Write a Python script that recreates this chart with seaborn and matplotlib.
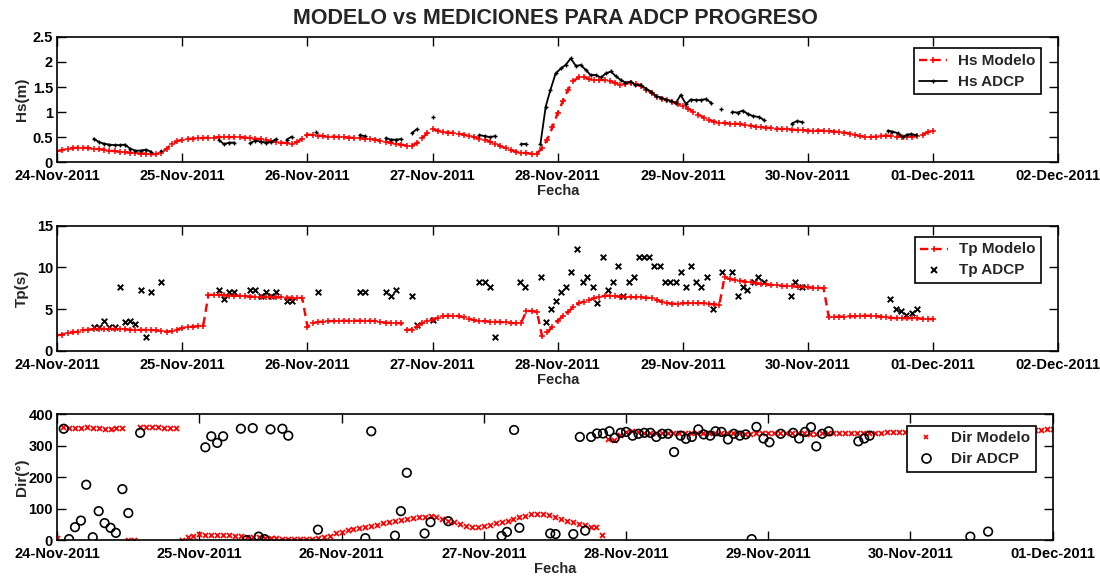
import numpy as np
import pandas as pd
import matplotlib
matplotlib.use('Agg')
import matplotlib.pyplot as plt
import matplotlib.dates as mdates
from matplotlib.lines import Line2D
import seaborn as sns

sns.set_style('white')
plt.rcParams['font.family'] = ['Liberation Sans', 'DejaVu Sans']
plt.rcParams['font.weight'] = 'bold'
plt.rcParams['axes.labelweight'] = 'bold'

# model output, hourly from 24-Nov-2011 00:00 to 01-Dec-2011 00:00
hs_model = [0.22, 0.24, 0.26, 0.28, 0.29, 0.29, 0.28, 0.27, 0.26, 0.25, 0.23, 0.22,
            0.21, 0.20, 0.19, 0.18, 0.17, 0.17, 0.16, 0.16, 0.19, 0.27, 0.36, 0.42,
            0.44, 0.46, 0.47, 0.48, 0.48, 0.49, 0.49, 0.50, 0.50, 0.50, 0.50, 0.50,
            0.49, 0.48, 0.47, 0.46, 0.44, 0.42, 0.40, 0.39, 0.38, 0.37, 0.40, 0.47,
            0.55, 0.54, 0.53, 0.52, 0.51, 0.51, 0.50, 0.50, 0.49, 0.48, 0.48, 0.47,
            0.46, 0.45, 0.43, 0.41, 0.39, 0.37, 0.35, 0.33, 0.33, 0.38, 0.48, 0.58,
            0.66, 0.63, 0.60, 0.59, 0.58, 0.57, 0.55, 0.53, 0.50, 0.47, 0.45, 0.41,
            0.37, 0.32, 0.28, 0.24, 0.21, 0.19, 0.18, 0.17, 0.17, 0.28, 0.45, 0.70,
            0.98, 1.22, 1.45, 1.62, 1.69, 1.70, 1.66, 1.64, 1.64, 1.64, 1.62, 1.58,
            1.55, 1.57, 1.58, 1.57, 1.52, 1.45, 1.38, 1.31, 1.27, 1.24, 1.20, 1.16,
            1.12, 1.07, 1.01, 0.95, 0.89, 0.84, 0.81, 0.79, 0.78, 0.77, 0.77, 0.76,
            0.74, 0.73, 0.71, 0.70, 0.69, 0.68, 0.67, 0.66, 0.66, 0.65, 0.64, 0.64,
            0.63, 0.63, 0.63, 0.63, 0.62, 0.61, 0.60, 0.59, 0.57, 0.55, 0.52, 0.51,
            0.50, 0.51, 0.52, 0.53, 0.52, 0.51, 0.51, 0.50, 0.51, 0.53, 0.55, 0.60,
            0.63]

tp_model = [1.85, 1.95, 2.1, 2.2, 2.3, 2.45, 2.55, 2.6, 2.62, 2.65, 2.65, 2.6,
            2.6, 2.57, 2.55, 2.5, 2.5, 2.5, 2.5, 2.45, 2.35, 2.3, 2.35, 2.55,
            2.7, 2.85, 2.9, 2.95, 3.0, 6.7, 6.7, 6.68, 6.67, 6.62, 6.6, 6.58,
            6.55, 6.5, 6.48, 6.45, 6.42, 6.4, 6.4, 6.4, 6.38, 6.37, 6.35, 6.33,
            2.9, 3.3, 3.45, 3.5, 3.55, 3.58, 3.6, 3.6, 3.6, 3.6, 3.6, 3.6,
            3.6, 3.55, 3.45, 3.38, 3.35, 3.32, 3.3, 2.5, 2.55, 2.9, 3.3, 3.55,
            3.75, 3.95, 4.15, 4.2, 4.22, 4.15, 4.0, 3.85, 3.65, 3.55, 3.55, 3.5,
            3.48, 3.45, 3.4, 3.35, 3.3, 3.35, 4.8, 4.75, 4.7, 1.75, 2.2, 2.9,
            3.6, 4.15, 4.7, 5.2, 5.7, 5.9, 6.05, 6.3, 6.45, 6.6, 6.6, 6.55,
            6.5, 6.5, 6.45, 6.4, 6.4, 6.35, 6.32, 6.1, 5.85, 5.75, 5.65, 5.65,
            5.7, 5.72, 5.72, 5.72, 5.7, 5.62, 5.55, 5.52, 8.8, 8.6, 8.5, 8.4,
            8.3, 8.2, 8.1, 8.0, 7.95, 7.9, 7.85, 7.8, 7.75, 7.72, 7.7, 7.65,
            7.6, 7.58, 7.55, 7.5, 4.0, 4.05, 4.1, 4.1, 4.12, 4.15, 4.18, 4.2,
            4.2, 4.18, 4.1, 4.0, 3.95, 3.9, 3.9, 3.9, 3.88, 3.88, 3.85, 3.82,
            3.78]

dir_model = [8, 360, 356, 355, 355, 358, 357, 355, 354, 354, 355, 356,
             1, 1, 360, 358, 358, 358, 357, 357, 356, 1, 9, 14,
             18, 17, 15, 15, 15, 15, 14, 12, 11, 10, 9, 7,
             6, 5, 4, 3, 3, 3, 3, 3, 5, 9, 14, 21,
             27, 31, 35, 39, 43, 46, 49, 54, 57, 62, 65, 68,
             71, 73, 74, 75, 73, 68, 62, 57, 50, 46, 43, 43,
             44, 49, 54, 57, 62, 68, 73, 78, 82, 84, 84, 79,
             74, 68, 62, 57, 51, 48, 43, 41, 17, 322, 317, 335,
             344, 346, 343, 342, 342, 341, 341, 340, 339, 339, 340, 340,
             339, 339, 339, 340, 340, 339, 339, 339, 338, 338, 339, 339,
             339, 339, 339, 340, 340, 339, 339, 338, 338, 339, 339, 340,
             340, 340, 340, 341, 341, 341, 342, 342, 343, 343, 344, 344,
             344, 344, 345, 345, 345, 346, 346, 346, 347, 347, 347, 348,
             348, 348, 349, 349, 349, 350, 350, 350, 351, 351, 351, 352,
             352]

# ADCP measurements (hours after 24-Nov-2011 00:00)
hs_adcp_h = [7, 8, 9, 10, 11, 12, 13, 14, 15, 16, 17, 18, 20,
             31, 32, 33, 34, 37, 38, 39, 40, 41, 42, 44, 45, 49.7,
             58, 59, 63, 64, 65, 66, 68, 69, 72, 81, 82, 83, 84, 89, 90,
             92.7, 93.7, 94.6, 95.6, 96.6, 97.5, 98.5, 99.5, 100.4, 101.4, 102.3, 103.3,
             104.3, 105.2, 106.2, 107.1, 108.1, 109.0, 110.0, 110.9, 111.9, 112.9,
             113.9, 114.8, 115.8, 116.7, 117.7, 118.7, 119.6, 120.6, 121.5, 122.5,
             123.5, 124.4, 125.4, 127.4,
             129.5, 130.5, 131.5, 132.5, 133.5, 134.6, 135.6, 140.9, 141.9, 142.9,
             159.3, 160.2, 161.2, 162.2, 163.0, 163.8, 164.8]
hs_adcp = [0.47, 0.40, 0.37, 0.35, 0.34, 0.34, 0.35, 0.27, 0.23, 0.23, 0.25, 0.21, 0.22,
           0.44, 0.36, 0.39, 0.39, 0.38, 0.43, 0.41, 0.39, 0.40, 0.46, 0.45, 0.51, 0.61,
           0.54, 0.52, 0.48, 0.45, 0.45, 0.46, 0.58, 0.66, 0.90, 0.54, 0.52, 0.50, 0.52, 0.37, 0.37,
           0.37, 1.11, 1.44, 1.77, 1.87, 1.94, 2.07, 1.92, 1.94, 1.84, 1.74, 1.74,
           1.69, 1.77, 1.81, 1.72, 1.64, 1.59, 1.61, 1.54, 1.54, 1.47,
           1.41, 1.32, 1.29, 1.25, 1.22, 1.19, 1.34, 1.16, 1.25, 1.24,
           1.24, 1.26, 1.19, 1.07,
           1.00, 0.99, 1.03, 0.96, 0.92, 0.90, 0.84, 0.77, 0.82, 0.80,
           0.63, 0.61, 0.58, 0.50, 0.55, 0.56, 0.54]

tp_adcp_h = [7, 8, 9, 10, 11, 12, 13, 14, 15, 16, 17, 18, 20,
             31, 32, 33, 34, 37, 38, 39, 40, 41, 42, 44, 45,
             50, 58, 59, 63, 64, 65, 68, 69, 72, 81, 82, 83, 84,
             88.8, 89.7, 92.8, 93.7, 94.7, 95.6, 96.6, 97.5, 98.6, 99.7, 100.8, 101.7,
             102.7, 103.6, 104.7, 105.7, 106.7, 107.6, 108.6, 109.7, 110.7, 111.6,
             112.6, 113.6, 114.5, 115.7, 116.6, 117.6, 118.7, 119.6, 120.6, 121.5,
             122.5, 123.5, 124.6, 125.7, 127.6, 129.5, 130.5, 131.5, 132.4, 133.6,
             134.5, 135.5, 140.7, 141.6, 142.9,
             159.8, 160.8, 161.8, 162.8, 163.9, 164.9]
tp_adcp = [2.8, 2.8, 3.6, 2.8, 2.8, 7.7, 3.4, 3.6, 3.2, 7.3, 1.6, 7.0, 8.2,
           7.3, 6.2, 7.0, 7.0, 7.3, 7.3, 6.6, 7.0, 6.6, 7.0, 6.0, 6.0,
           7.0, 7.0, 7.0, 7.0, 6.6, 7.3, 6.6, 3.05, 3.7, 8.2, 8.2, 7.7, 1.6,
           8.2, 7.7, 8.9, 3.4, 5.0, 6.0, 7.0, 7.7, 9.4, 12.2, 8.2, 8.9,
           7.7, 5.7, 11.2, 7.3, 8.2, 10.2, 6.6, 8.2, 8.9, 11.2,
           11.2, 11.2, 10.2, 10.2, 8.2, 8.2, 8.2, 9.4, 7.7, 10.2,
           8.2, 7.7, 8.9, 5.0, 9.4, 9.4, 6.6, 7.7, 7.3, 8.2,
           8.9, 8.2, 6.6, 8.2, 7.7,
           6.2, 5.0, 4.8, 4.3, 4.5, 5.0]

dir_adcp_h = [1.1, 2, 3, 4, 4.9, 6, 7, 8, 9, 9.9, 11, 12, 14,
              25, 26, 27, 28, 31, 32, 33, 34, 35, 36, 38, 39, 44,
              52, 53, 57, 58, 59, 62, 63, 66,
              75, 75.9, 77.1, 78,
              83.2, 84.1, 87.1, 88.2, 89.1, 90.1, 91.1, 92.1, 93.2, 94.1, 95.1,
              96, 97.1, 98.1, 99.1, 100.1, 101.1, 102.1, 103.1, 104.1, 105.2, 106.1,
              107.1, 108.2, 109.1, 110.2, 111.1, 112.1, 113.2, 114.2, 115.2, 116.2,
              117.2, 118, 119.2, 120.2, 122.1, 124.2, 125.2, 126.2, 127.2, 128.1, 129.1, 130.2,
              135.2, 136.2, 137.1, 154.1, 157.1]
dir_adcp = [354, 3, 41, 62, 176, 9, 92, 54, 39, 23, 162, 86, 341,
            295, 330, 309, 330, 354, 0, 356, 11, 3, 352, 354, 332, 33,
            6, 346, 14, 92, 214, 21, 57, 60,
            13, 26, 350, 39,
            21, 19, 19, 328, 30, 328, 339, 339, 346, 325, 341,
            344, 332, 338, 341, 341, 328, 338, 338, 280, 332, 322,
            328, 352, 336, 332, 346, 344, 320, 338, 332, 336,
            3, 360, 323, 311, 338, 341, 323, 344, 359, 298, 338, 346,
            314, 323, 332, 11, 27]

t0 = pd.Timestamp('2011-11-24')


def to_time(hours):
    return t0 + pd.to_timedelta(np.asarray(hours, dtype=float), unit='h')


model_t = to_time(np.arange(len(hs_model)))
days_top = pd.date_range('2011-11-24', '2011-12-02', freq='D')
days_bot = pd.date_range('2011-11-24', '2011-12-01', freq='D')

fig = plt.figure(figsize=(11, 5.77), dpi=100)
left, width = 0.052, 0.910
ax1 = fig.add_axes([left, 0.719, width, 0.217])
ax2 = fig.add_axes([left, 0.392, width, 0.217])
ax3 = fig.add_axes([left, 0.064, 0.905, 0.218])

fig.text(0.505, 0.968, 'MODELO vs MEDICIONES PARA ADCP PROGRESO',
         ha='center', va='center', fontsize=15.5, fontweight='bold')

DASH = (0, (3.5, 2.2))
model_kw = dict(color='red', linewidth=1.7, marker='+', markersize=4,
                markeredgewidth=1.1, markeredgecolor='red')
adcp_kw = dict(color='black', linewidth=1.3, marker='+', markersize=3.5,
               markeredgewidth=1.0, markeredgecolor='black')


def model_line(ax, y):
    sns.lineplot(x=model_t, y=y, ax=ax, **model_kw)
    ax.lines[-1].set_linestyle(DASH)


# --- Hs ---
model_line(ax1, hs_model)
hh = np.asarray(hs_adcp_h, dtype=float)
seg = np.concatenate([[0], np.cumsum(np.diff(hh) > 1.5)])
sns.lineplot(x=to_time(hh), y=hs_adcp, units=seg, estimator=None, ax=ax1,
             **adcp_kw)
ax1.set_ylim(0, 2.5)
ax1.set_yticks([0, 0.5, 1, 1.5, 2, 2.5])
ax1.set_yticklabels(['0', '0.5', '1', '1.5', '2', '2.5'])
ax1.set_ylabel('Hs(m)')
ax1.legend([Line2D([], [], linestyle=DASH, **model_kw),
            Line2D([], [], **adcp_kw)],
           ['Hs Modelo', 'Hs ADCP'], loc='upper right')

# --- Tp ---
model_line(ax2, tp_model)
sns.scatterplot(x=to_time(tp_adcp_h), y=tp_adcp, ax=ax2, marker='x',
                color='black', s=16, linewidth=1.4)
ax2.set_ylim(0, 15)
ax2.set_yticks([0, 5, 10, 15])
ax2.set_ylabel('Tp(s)')
ax2.legend([Line2D([], [], linestyle=DASH, **model_kw),
            Line2D([], [], color='black', linestyle='none', marker='x',
                   markersize=4, markeredgewidth=1.4)],
           ['Tp Modelo', 'Tp ADCP'], loc='upper right')

# --- Dir ---
sns.scatterplot(x=model_t, y=dir_model, ax=ax3, marker='x', color='red',
                s=13, linewidth=1.3)
sns.scatterplot(x=to_time(dir_adcp_h), y=dir_adcp, ax=ax3, marker='o',
                facecolor='none', edgecolor='black', s=38, linewidth=1.2)
ax3.set_ylim(0, 400)
ax3.set_yticks([0, 100, 200, 300, 400])
ax3.set_ylabel('Dir(°)')
ax3.legend([Line2D([], [], color='red', linestyle='none', marker='x',
                   markersize=3.5, markeredgewidth=1.2),
            Line2D([], [], color='black', linestyle='none', marker='o',
                   markerfacecolor='none', markersize=6.5, markeredgewidth=1.2)],
           ['Dir Modelo', 'Dir ADCP'], loc='upper right')

for ax, days in [(ax1, days_top), (ax2, days_top), (ax3, days_bot)]:
    ax.set_xlim(days[0], days[-1])
    ax.set_xticks(days)
    ax.xaxis.set_major_formatter(mdates.DateFormatter('%d-%b-%Y'))
    ax.set_xlabel('Fecha', fontsize=10.5, fontweight='bold', labelpad=1)
    ax.yaxis.label.set_size(11)
    ax.tick_params(direction='in', length=6.5, width=1, top=True, right=True,
                   bottom=True, left=True, labelsize=10.5, colors='black')
    ax.tick_params(axis='x', pad=5)
    ax.tick_params(axis='y', pad=3)
    for lab in ax.get_xticklabels() + ax.get_yticklabels():
        lab.set_fontweight('bold')
    for sp in ax.spines.values():
        sp.set_color('black')
        sp.set_linewidth(1.2)
    leg = ax.get_legend()
    leg.get_frame().set_edgecolor('black')
    leg.get_frame().set_linewidth(1.2)
    leg.get_frame().set_boxstyle('square', pad=0)
    leg.get_frame().set_alpha(1)
    for txt in leg.get_texts():
        txt.set_fontweight('bold')
        txt.set_fontsize(11)
    leg.set_bbox_to_anchor((0.99, 0.965), transform=ax.transAxes)
    leg._legend_box.sep = 1
    ax.yaxis.set_label_coords(-0.028, 0.5)

fig.savefig('out.png', dpi=100)
